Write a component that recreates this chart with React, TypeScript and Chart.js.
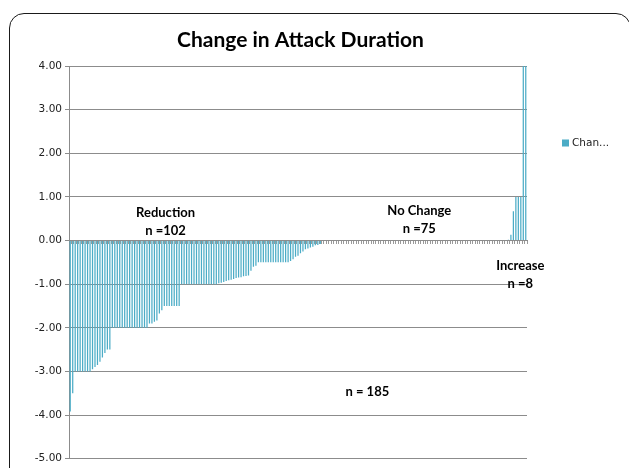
import { useEffect, useRef } from "react";
import { Chart, registerables } from "chart.js";

Chart.register(...registerables);

const chartTitle = "Change in Attack Duration";
const seriesLabel = "Change in Attack Duration";
const legendText = "Chan...";

// 102 reductions (sorted), 75 no change, 8 increases
const reductionValues: number[] = [
  -3.92, -3.5,
  -3.0, -3.0, -3.0, -3.0, -3.0, -3.0, -3.0,
  -2.95, -2.9, -2.85, -2.78, -2.68, -2.58, -2.5, -2.5,
  -2.0, -2.0, -2.0, -2.0, -2.0, -2.0, -2.0, -2.0, -2.0, -2.0, -2.0, -2.0, -2.0, -2.0, -2.0,
  -1.9, -1.9, -1.86, -1.83, -1.67, -1.6,
  -1.5, -1.5, -1.5, -1.5, -1.5, -1.5, -1.5,
  -1.0, -1.0, -1.0, -1.0, -1.0, -1.0, -1.0, -1.0, -1.0, -1.0, -1.0, -1.0, -1.0, -1.0, -1.0,
  -0.98, -0.97, -0.95, -0.93, -0.91, -0.9, -0.88, -0.86, -0.85, -0.84, -0.82, -0.81, -0.8,
  -0.69, -0.6, -0.58,
  -0.5, -0.5, -0.5, -0.5, -0.5, -0.5, -0.5, -0.5, -0.5, -0.5, -0.5, -0.5, -0.5,
  -0.47, -0.43, -0.37, -0.35, -0.29, -0.25, -0.2, -0.18, -0.16, -0.14, -0.11, -0.1, -0.08,
];

const noChangeValues: number[] = [
  0, 0, 0, 0, 0, 0, 0, 0, 0, 0, 0, 0, 0, 0, 0,
  0, 0, 0, 0, 0, 0, 0, 0, 0, 0, 0, 0, 0, 0, 0,
  0, 0, 0, 0, 0, 0, 0, 0, 0, 0, 0, 0, 0, 0, 0,
  0, 0, 0, 0, 0, 0, 0, 0, 0, 0, 0, 0, 0, 0, 0,
  0, 0, 0, 0, 0, 0, 0, 0, 0, 0, 0, 0, 0, 0, 0,
];

const increaseValues: number[] = [0.02, 0.13, 0.67, 1.0, 1.0, 1.0, 4.0, 4.0];

const changeValues: number[] = [...reductionValues, ...noChangeValues, ...increaseValues];
const categoryLabels: string[] = changeValues.map((_, i) => String(i + 1));

const yMin = -5;
const yMax = 4;
const yStep = 1;

// Text annotations anchored to (category index, value)
const annotationLines: string[][] = [
  ["Reduction", "n =102"],
  ["No Change", "n =75"],
  ["Increase", "n =8"],
  ["n = 185"],
];
const annotationIndex: number[] = [38.5, 141, 181.8, 120];
const annotationValue: number[] = [0.63, 0.68, -0.57, -3.46];

const barColor = "#4BACC6";
const gridColor = "#8c8c8c";

const overlayPlugin = {
  id: "overlay",
  afterDraw(chart: any) {
    const { ctx, chartArea } = chart;
    const xs = chart.scales.x;
    const ys = chart.scales.y;
    ctx.save();
    // title
    ctx.fillStyle = "#000";
    ctx.font = "bold 21px Lato";
    ctx.textAlign = "center";
    ctx.textBaseline = "middle";
    ctx.fillText(chartTitle, chart.width / 2 - 14, chartArea.top - 26);
    // annotations
    ctx.font = "bold 13px Lato";
    annotationLines.forEach((lines, k) => {
      const px = xs.getPixelForValue(annotationIndex[k]);
      const py = ys.getPixelForValue(annotationValue[k]);
      lines.forEach((t, i) => ctx.fillText(t, px, py + i * 18));
    });
    // legend
    const ds = chart.data.datasets[0];
    const lx = chartArea.right + 35;
    const ly = chartArea.top + 77;
    ctx.fillStyle = ds.backgroundColor;
    ctx.fillRect(lx, ly - 3.5, 7, 7);
    ctx.fillStyle = "#222";
    ctx.font = "10.5px 'DejaVu Sans'";
    ctx.textAlign = "left";
    ctx.fillText(legendText, lx + 10, ly);
    ctx.restore();
  },
};

export default function App() {
  const canvasRef = useRef<HTMLCanvasElement | null>(null);

  useEffect(() => {
    if (!canvasRef.current) return;
    const chart = new Chart(canvasRef.current, {
      type: "bar",
      data: {
        labels: categoryLabels,
        datasets: [
          {
            label: seriesLabel,
            data: changeValues,
            backgroundColor: barColor,
            borderWidth: 0,
            barPercentage: 0.5,
            categoryPercentage: 1,
          },
        ],
      },
      options: {
        responsive: false,
        animation: false,
        layout: { padding: { left: 0, right: 102, top: 66, bottom: 5 } },
        plugins: {
          legend: { display: false },
          tooltip: { enabled: false },
          title: { display: false },
        },
        scales: {
          x: {
            type: "category",
            position: { y: 0 } as any,
            offset: true,
            ticks: { display: false },
            grid: {
              display: true,
              drawOnChartArea: false,
              drawTicks: true,
              tickLength: 3,
              tickColor: "#9a9a9a",
              offset: true,
            },
            border: { display: true, color: gridColor, width: 1 },
          },
          y: {
            min: yMin,
            max: yMax,
            ticks: {
              stepSize: yStep,
              color: "#222",
              font: { family: "DejaVu Sans", size: 10.5 },
              padding: 3,
              callback: (v: any) => Number(v).toFixed(2),
            },
            grid: { color: gridColor, tickLength: 4, tickColor: gridColor },
            border: { display: true, color: gridColor },
            afterFit: (s: any) => {
              s.width = 69;
            },
          },
        },
      },
      plugins: [overlayPlugin],
    });
    return () => chart.destroy();
  }, []);

  return (
    <div
      style={{
        position: "fixed",
        left: 0,
        top: 0,
        width: 629,
        height: 468,
        overflow: "hidden",
        background: "#fff",
      }}
    >
      <div
        style={{
          position: "absolute",
          left: 9,
          top: 13,
          width: 622,
          height: 480,
          border: "1.5px solid #1a1a1a",
          borderRadius: 15,
          boxSizing: "border-box",
        }}
      />
      <canvas
        ref={canvasRef}
        width={629}
        height={468}
        style={{ position: "absolute", left: 0, top: 0 }}
      />
    </div>
  );
}
